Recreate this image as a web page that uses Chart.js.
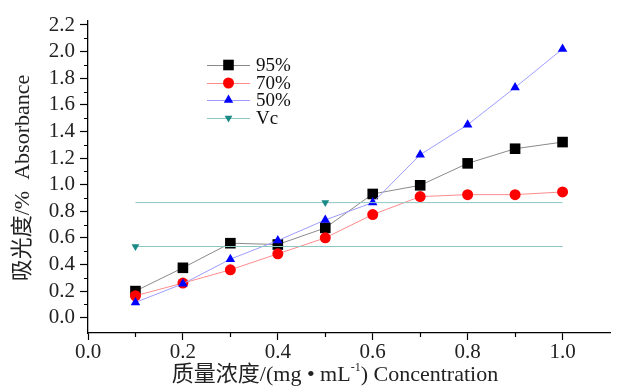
<!DOCTYPE html>
<html><head><meta charset="utf-8">
<script src="https://cdn.jsdelivr.net/npm/chart.js@4/dist/chart.umd.min.js"></script>
<style>html,body{margin:0;padding:0;background:#fff}#wrap{width:618px;height:387px;position:relative}</style>
</head><body><div id="wrap"><canvas id="c" width="618" height="387"></canvas></div>
<script>
const concentrations = [0.1, 0.2, 0.3, 0.4, 0.5, 0.6, 0.7, 0.8, 0.9, 1.0];
const abs95 = [0.20, 0.375, 0.56, 0.55, 0.675, 0.93, 0.995, 1.16, 1.27, 1.32];
const abs70 = [0.165, 0.26, 0.36, 0.48, 0.60, 0.775, 0.91, 0.925, 0.925, 0.945];
const abs50 = [0.115, 0.255, 0.44, 0.58, 0.735, 0.865, 1.225, 1.45, 1.73, 2.02];
const vcLevels = [0.535, 0.865];
const vcMarkerX = [0.1, 0.5];
const vcLineX = [0.1, 1.0];
const seriesNames = ['95%', '70%', '50%', 'Vc'];
const xTickValues = [0.0, 0.2, 0.4, 0.6, 0.8, 1.0];
const yTickValues = [0.0, 0.2, 0.4, 0.6, 0.8, 1.0, 1.2, 1.4, 1.6, 1.8, 2.0, 2.2];
const xMinorValues = [0.1, 0.3, 0.5, 0.7, 0.9];
const yMinorValues = [0.1, 0.3, 0.5, 0.7, 0.9, 1.1, 1.3, 1.5, 1.7, 1.9, 2.1];
const xTitleMain = '质量浓度/(mg • mL';
const xTitleSup = '-1';
const xTitleEnd = ') Concentration';
const yTitle = '吸光度/%  Absorbance';

const FONT = "'Liberation Serif', 'Noto Sans CJK SC', serif";

const styles = [
  {line:'#8a8a8a', pt:'#000000', style:'rect', r:7.5, rot:0},
  {line:'#ff8c8c', pt:'#ff0000', style:'circle', r:5.5, rot:0},
  {line:'#9d9dff', pt:'#0000ff', style:'triangle', r:5.5, rot:0},
  {line:'#8cc7c3', pt:'#1a8a84', style:'triangle', r:4.5, rot:180}
];

function pts(xs, ys){ return xs.map((x,i)=>({x:x, y:ys[i]})); }

function vcXs(markerX){
  return [vcLineX[0], markerX, vcLineX[1]].filter((v,i,a)=>a.indexOf(v)===i).sort((a,b)=>a-b);
}
function vcData(level, markerX){ return vcXs(markerX).map(x=>({x:x, y:level})); }
function vcRadius(markerX){ return vcXs(markerX).map(x=> x===markerX ? styles[3].r : 0); }

const datasets = [
  ...vcLevels.map((lv,i)=>({
    label: i===0 ? seriesNames[3] : seriesNames[3]+'_b',
    data: vcData(lv, vcMarkerX[i]),
    borderColor: styles[3].line, backgroundColor: styles[3].pt, borderWidth:1,
    pointStyle: 'triangle', rotation: 180, pointRadius: vcRadius(vcMarkerX[i]),
    pointBorderWidth:0, pointBackgroundColor: styles[3].pt
  })),
  {label: seriesNames[2], data: pts(concentrations, abs50), borderColor: styles[2].line, borderWidth:1,
    pointStyle:'triangle', pointRadius: styles[2].r, pointBackgroundColor: styles[2].pt, pointBorderWidth:0},
  {label: seriesNames[1], data: pts(concentrations, abs70), borderColor: styles[1].line, borderWidth:1,
    pointStyle:'circle', pointRadius: styles[1].r, pointBackgroundColor: styles[1].pt, pointBorderWidth:0},
  {label: seriesNames[0], data: pts(concentrations, abs95), borderColor: styles[0].line, borderWidth:1,
    pointStyle:'rect', pointRadius: styles[0].r, pointBackgroundColor: styles[0].pt, pointBorderWidth:0}
];

const decor = {
  id:'decor',
  afterDraw(chart){
    const ctx = chart.ctx;
    const xs = chart.scales.x, ys = chart.scales.y;
    ctx.save();
    ctx.strokeStyle = '#000'; ctx.lineWidth = 1.2;
    ctx.beginPath();
    yMinorValues.forEach(v=>{ const p = Math.round(ys.getPixelForValue(v))+0.5; ctx.moveTo(xs.left-4, p); ctx.lineTo(xs.left, p); });
    xMinorValues.forEach(v=>{ const p = Math.round(xs.getPixelForValue(v))+0.5; ctx.moveTo(p, ys.bottom); ctx.lineTo(p, ys.bottom+4); });
    ctx.stroke();
    // legend
    const lx0 = 207, lx1 = 250, tx = 256;
    const rows = [65, 83, 100, 118];
    ctx.font = '19px ' + FONT;
    ctx.textBaseline = 'middle'; ctx.textAlign = 'left';
    seriesNames.forEach((name,i)=>{
      const s = styles[i], y = rows[i];
      ctx.strokeStyle = s.line; ctx.lineWidth = 1;
      ctx.beginPath(); ctx.moveTo(lx0, y+0.5); ctx.lineTo(lx1, y+0.5); ctx.stroke();
      ctx.fillStyle = s.pt; ctx.strokeStyle = s.pt; ctx.lineWidth = 0;
      Chart.helpers.drawPoint(ctx, {pointStyle: s.style, rotation: s.rot, radius: s.r, borderWidth:0}, (lx0+lx1)/2, y);
      ctx.fillStyle = '#111';
      ctx.fillText(name, tx, y+1);
    });
    // x title
    ctx.fillStyle = '#222';
    const big = '22px ' + FONT, small = '12px ' + FONT;
    ctx.textBaseline = 'alphabetic';
    ctx.font = big; const w1 = ctx.measureText(xTitleMain).width;
    ctx.font = small; const w2 = ctx.measureText(xTitleSup).width;
    ctx.font = big; const w3 = ctx.measureText(xTitleEnd).width;
    let x = 335 - (w1+w2+w3)/2;
    const by = 381;
    ctx.fillText(xTitleMain, x, by); x += w1;
    ctx.font = small; ctx.fillText(xTitleSup, x, by-10); x += w2;
    ctx.font = big; ctx.fillText(xTitleEnd, x, by);
    // y title
    ctx.save();
    ctx.translate(23, 178); ctx.rotate(-Math.PI/2);
    ctx.textAlign = 'center'; ctx.textBaseline = 'middle';
    ctx.font = big;
    ctx.fillText(yTitle, 0, 0);
    ctx.restore();
    ctx.restore();
  }
};

new Chart(document.getElementById('c'), {
  type:'line',
  data:{datasets: datasets},
  options:{
    responsive:false, animation:false,
    layout:{padding:{left:0, right:8, top:21, bottom:0}},
    plugins:{legend:{display:false}, tooltip:{enabled:false}},
    elements:{line:{tension:0}},
    scales:{
      x:{type:'linear', min:0, max:1.1,
        afterBuildTicks(s){ s.ticks = xTickValues.map(v=>({value:v})); },
        afterFit(s){ s.height = 54; },
        grid:{drawOnChartArea:false, drawTicks:true, tickLength:7, color:'#000', tickWidth:1.2},
        border:{display:true, color:'#000', width:1.3},
        ticks:{color:'#222', font:{family:FONT, size:21}, padding:0, maxRotation:0,
          callback:v=>Number(v).toFixed(1)}
      },
      y:{type:'linear', min:-0.115, max:2.23,
        afterBuildTicks(s){ s.ticks = yTickValues.map(v=>({value:v})); },
        afterFit(s){ s.width = 88; },
        grid:{drawOnChartArea:false, drawTicks:true, tickLength:8, color:'#000', tickWidth:1.2},
        border:{display:true, color:'#000', width:1.3},
        ticks:{color:'#222', font:{family:FONT, size:21}, padding:5,
          callback:v=>Number(v).toFixed(1)}
      }
    }
  },
  plugins:[decor]
});
</script></body></html>
